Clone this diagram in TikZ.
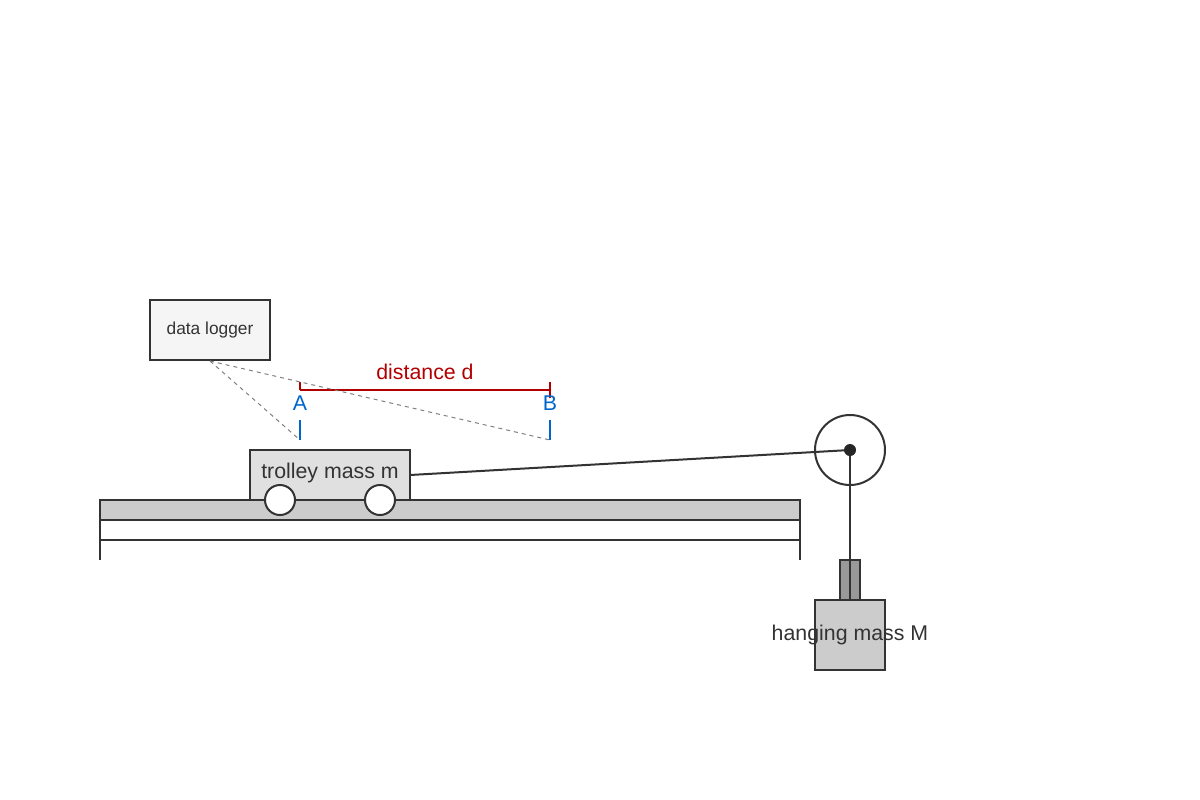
\documentclass[tikz,border=0pt]{standalone}
\usepackage{fontspec}
\setmainfont{Liberation Sans}
\begin{document}
\begin{tikzpicture}[x=0.75pt,y=-0.75pt,
  box/.style={draw=black!80,line width=1.5pt},
  lbl/.style={text=black!80,font=\fontsize{16}{18}\selectfont},
  red/.style={draw={rgb,255:red,178;green,0;blue,0},line width=1.5pt},
  blu/.style={draw={rgb,255:red,0;green,102;blue,204},line width=1.5pt}]
\useasboundingbox (0,0) rectangle (1200,800);
\definecolor{rd}{RGB}{178,0,0}
\definecolor{bl}{RGB}{0,102,204}
% data logger
\node[box,fill=black!4,minimum width=90pt,minimum height=45pt,inner sep=0pt,text=black!80,font=\fontsize{13}{15}\selectfont] (dl) at (210,330) {data logger};
% distance
\coordinate (dA) at (300,390); \coordinate (dB) at (550,390);
\draw[red] (dA) -- (dB);
\draw[red] (300,382) -- (300,390);
\draw[red] (550,382) -- (550,398);
\node[text=rd,font=\fontsize{16}{18}\selectfont] (dt) at (425,372) {distance d};
\node[text=bl,font=\fontsize{16}{18}\selectfont] (A) at (300,403) {A};
\node[text=bl,font=\fontsize{16}{18}\selectfont] (B) at (550,403) {B};
\coordinate (gA) at (300,440); \coordinate (gB) at (550,440);
\draw[blu] (300,420) -- (gA);
\draw[blu] (550,420) -- (gB);
\draw[gray,dashed,line width=0.75pt] (dl.south) -- (gA);
\draw[gray,dashed,line width=0.75pt] (dl.south) -- (gB);
% track
\draw[box,fill=black!20] (100,500) rectangle (800,520);
\draw[box] (100,520) -- (100,560);
\draw[box] (800,520) -- (800,560);
\draw[box] (100,540) -- (800,540);
% trolley
\node[box,fill=black!12,minimum width=120pt,minimum height=37.5pt,inner sep=0pt] (tr) at (330,475) {};
\node[lbl] at (330,473) {trolley mass m};
\node[box,circle,fill=white,minimum size=22.5pt,inner sep=0pt] (w1) at (280,500) {};
\node[box,circle,fill=white,minimum size=22.5pt,inner sep=0pt] (w2) at (380,500) {};
% pulley
\node[box,circle,minimum size=52.5pt,inner sep=0pt] (p) at (850,450) {};
\coordinate (tr1) at (410,475);
\draw[box] (tr1) -- (p.center);
\draw[box] (p.center) -- (850,600);
\fill[black!85] (p.center) circle (6);
% hanging mass
\draw[box,fill=black!40] (840,560) rectangle (860,600);
\draw[box] (850,560) -- (850,600);
\node[box,fill=black!20,minimum width=52.5pt,minimum height=52.5pt,inner sep=0pt] (hm) at (850,635) {};
\node[lbl] at (850,635) {hanging mass M};
\end{tikzpicture}
\end{document}
